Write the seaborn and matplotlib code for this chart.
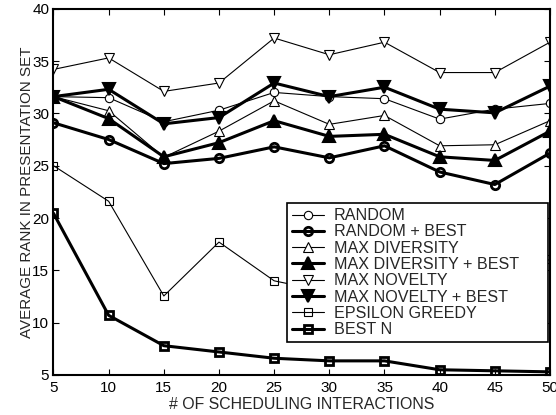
import matplotlib
matplotlib.use("Agg")
import matplotlib.pyplot as plt
import seaborn as sns
import pandas as pd

x_vals = [5, 10, 15, 20, 25, 30, 35, 40, 45, 50]

random_ = [31.6, 31.5, 29.2, 30.3, 32.0, 31.6, 31.4, 29.45, 30.4, 30.95]
random_best = [29.1, 27.5, 25.2, 25.7, 26.8, 25.75, 26.9, 24.4, 23.2, 26.2]
max_div = [31.6, 30.25, 25.8, 28.3, 31.2, 28.95, 29.8, 26.9, 27.0, 29.3]
max_div_best = [31.6, 29.5, 25.85, 27.2, 29.3, 27.8, 28.0, 25.85, 25.5, 28.3]
max_nov = [34.2, 35.3, 32.1, 32.9, 37.2, 35.6, 36.8, 33.9, 33.9, 36.8]
max_nov_best = [31.6, 32.3, 29.0, 29.6, 32.9, 31.6, 32.5, 30.4, 30.05, 32.6]
eps_greedy = [25.0, 21.6, 12.55, 17.7, 14.0, 12.9, 13.3, 13.0, 13.8, 16.05]
best_n = [20.45, 10.7, 7.8, 7.2, 6.6, 6.35, 6.35, 5.5, 5.4, 5.3]

series_names = ["RANDOM", "RANDOM + BEST", "MAX DIVERSITY", "MAX DIVERSITY + BEST",
                "MAX NOVELTY", "MAX NOVELTY + BEST", "EPSILON GREEDY", "BEST N"]
series_vals = [random_, random_best, max_div, max_div_best,
               max_nov, max_nov_best, eps_greedy, best_n]

x_ticks = [5, 10, 15, 20, 25, 30, 35, 40, 45, 50]
y_ticks = [5, 10, 15, 20, 25, 30, 35, 40]

sns.set_theme(style="ticks")
plt.rcParams['font.family'] = ['Liberation Sans', 'DejaVu Sans']

styles = {
    "RANDOM": dict(marker="o", lw=0.8, ms=6, mfc="white", mew=0.8),
    "RANDOM + BEST": dict(marker="o", lw=2.2, ms=6, mfc="none", mew=2.0),
    "MAX DIVERSITY": dict(marker="^", lw=0.8, ms=7, mfc="white", mew=0.8),
    "MAX DIVERSITY + BEST": dict(marker="^", lw=2.2, ms=8, mfc="black", mew=1.5),
    "MAX NOVELTY": dict(marker="v", lw=0.8, ms=7, mfc="white", mew=0.8),
    "MAX NOVELTY + BEST": dict(marker="v", lw=2.2, ms=8, mfc="black", mew=1.5),
    "EPSILON GREEDY": dict(marker="s", lw=0.8, ms=6, mfc="none", mew=0.8),
    "BEST N": dict(marker="s", lw=2.2, ms=6, mfc="none", mew=2.0),
}

df = pd.DataFrame([(n, x, v) for n, vals in zip(series_names, series_vals)
                   for x, v in zip(x_vals, vals)], columns=["series", "x", "y"])

fig = plt.figure(figsize=(5.56, 4.15), dpi=100)
ax = fig.add_axes([0.0962, 0.0964, 0.893, 0.8826])

for name in series_names:
    st = styles[name]
    sub = df[df["series"] == name]
    sns.lineplot(data=sub, x="x", y="y", ax=ax, color="black", label=name,
                 linewidth=st["lw"], marker=st["marker"], markersize=st["ms"],
                 markerfacecolor=st["mfc"], markeredgecolor="black",
                 markeredgewidth=st["mew"], estimator=None, sort=False)

ax.set_xlim(5, 50)
ax.set_ylim(5, 40)
ax.set_xticks(x_ticks)
ax.set_yticks(y_ticks)
ax.tick_params(direction="in", top=True, right=True, labelsize=11, length=4,
               width=0.8, colors="black")
ax.tick_params(axis="x", pad=4)
ax.tick_params(axis="y", pad=3)
for s in ax.spines.values():
    s.set_visible(True)
    s.set_linewidth(1.5)
    s.set_color("black")
ax.set_xlabel("# OF SCHEDULING INTERACTIONS", fontsize=11.4, labelpad=2)
ax.set_ylabel("AVERAGE RANK IN PRESENTATION SET", fontsize=10.9, labelpad=-1)

leg = ax.legend(loc="lower left", bbox_to_anchor=(0.470, 0.090, 0.526, 0.3),
                mode="expand", borderaxespad=0, fontsize=11.6,
                frameon=True, fancybox=False, edgecolor="black", framealpha=1,
                handlelength=2.0, labelspacing=0.08, borderpad=0.3, handletextpad=0.6)
leg.get_frame().set_linewidth(1.2)

fig.savefig("out.png", dpi=100)
